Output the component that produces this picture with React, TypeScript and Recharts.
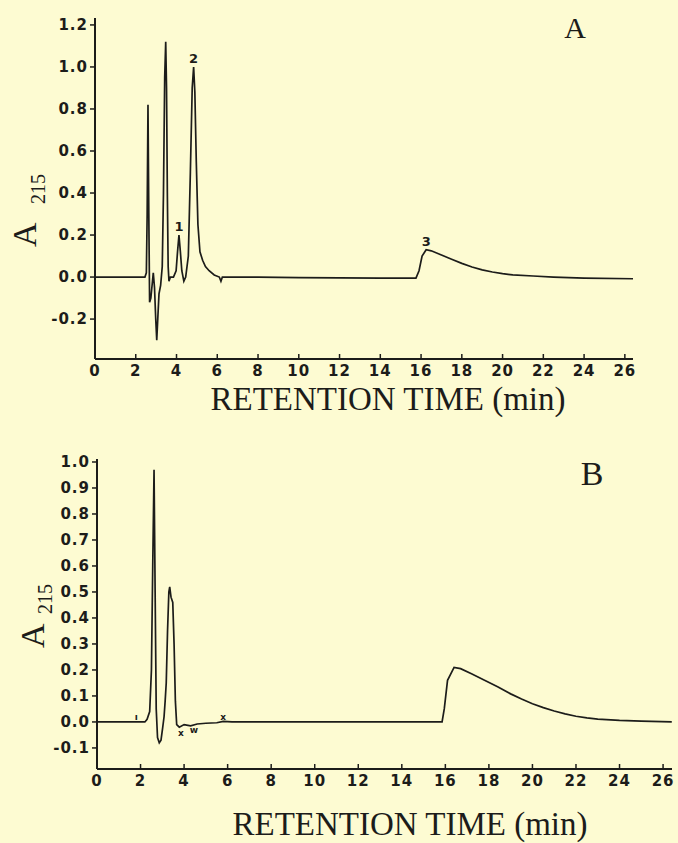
import { LineChart, Line, XAxis, YAxis, ReferenceDot } from "recharts";

// panel A chromatogram (time in min, absorbance at 215 nm)
const timeA = [
  0, 2.45, 2.52, 2.56, 2.6, 2.64, 2.68, 2.74, 2.8, 2.86, 2.92, 2.98, 3.03, 3.08, 3.14, 3.22,
  3.3, 3.36, 3.42, 3.47, 3.51, 3.55, 3.59, 3.63, 3.7, 3.85, 3.98, 4.05, 4.12, 4.19, 4.26,
  4.36, 4.45, 4.58, 4.68, 4.77, 4.84, 4.9, 4.97, 5.05, 5.15, 5.28, 5.42, 5.6, 5.85, 6.1,
  6.18, 6.25, 8, 10, 14, 15.75, 15.9, 16.05, 16.25, 16.5, 17, 17.5, 18, 18.5, 19, 19.5,
  20, 20.5, 21.5, 22.5, 24, 26.4,
];
const absA = [
  0, 0, 0.02, 0.3, 0.82, 0.3, -0.12, -0.1, -0.04, 0.02, -0.05, -0.2, -0.3, -0.2, -0.08, -0.04,
  0.05, 0.4, 0.95, 1.12, 0.9, 0.4, 0.05, -0.02, 0.0, 0.0, 0.03, 0.12, 0.2, 0.12, 0.03,
  -0.02, 0.0, 0.1, 0.5, 0.9, 1.0, 0.88, 0.55, 0.25, 0.12, 0.08, 0.05, 0.03, 0.01, 0.0,
  -0.02, 0.0, 0.0, -0.003, -0.005, -0.005, 0.03, 0.1, 0.13, 0.125, 0.105, 0.085, 0.065, 0.048, 0.034, 0.024,
  0.016, 0.01, 0.005, 0.0, -0.005, -0.008,
];

// panel B chromatogram
const timeB = [
  0, 2.2, 2.3, 2.42, 2.5, 2.56, 2.62, 2.67, 2.72, 2.78, 2.86, 2.94, 3.02, 3.08, 3.13, 3.18,
  3.24, 3.3, 3.34, 3.4, 3.48, 3.54, 3.6, 3.66, 3.78, 4.0, 4.3, 4.6, 5.0, 5.5, 5.8, 6.2,
  15.85, 15.95, 16.1, 16.4, 16.7, 17.2, 17.8, 18.4, 19.0, 19.5, 20.0, 20.5, 21.0, 21.5,
  22.0, 22.5, 23.0, 24.0, 25.0, 26.4,
];
const absB = [
  0, 0, 0.01, 0.04, 0.2, 0.6, 0.97, 0.5, 0.05, -0.06, -0.08, -0.07, -0.02, 0.02, 0.08, 0.15,
  0.35, 0.5, 0.52, 0.48, 0.46, 0.3, 0.08, -0.01, -0.02, -0.01, -0.015, -0.008, -0.005, -0.003, 0.002, 0.0,
  0.0, 0.05, 0.16, 0.21, 0.205, 0.185, 0.16, 0.135, 0.108, 0.088, 0.07, 0.055, 0.042, 0.031,
  0.022, 0.016, 0.011, 0.006, 0.003, 0.0,
];

const xTicks = [0, 2, 4, 6, 8, 10, 12, 14, 16, 18, 20, 22, 24, 26];
const yTicksA = [-0.2, 0, 0.2, 0.4, 0.6, 0.8, 1.0, 1.2];
const yTicksB = [-0.1, 0, 0.1, 0.2, 0.3, 0.4, 0.5, 0.6, 0.7, 0.8, 0.9, 1.0];

const peaksA = [
  { t: 4.12, v: 0.2, label: "1" },
  { t: 4.84, v: 1.0, label: "2" },
  { t: 16.25, v: 0.13, label: "3" },
];
// little pen marks on trace B
const marksB = [
  { t: 1.8, v: 0.0, label: "ı", pos: "top" },
  { t: 3.85, v: -0.02, label: "x", pos: "bottom" },
  { t: 4.45, v: -0.012, label: "w", pos: "bottom" },
  { t: 5.8, v: 0.0, label: "x", pos: "top" },
];

const rowsA = timeA.map((t, i) => ({ t, a: absA[i] }));
const rowsB = timeB.map((t, i) => ({ t, a: absB[i] }));

const BG = "#fdfbd2";
const INK = "#1c1c1a";
const tickStyle = { fontFamily: "DejaVu Sans", fontWeight: 900, fontSize: 15, letterSpacing: "1px" };
const serif = "Liberation Serif, Times New Roman, serif";

function XTick({ x, y, payload }: any) {
  return (
    <g>
      <line x1={x} y1={y} x2={x} y2={y - 5} stroke={INK} strokeWidth={1.5} />
      <text x={x} y={y + 17} textAnchor="middle" fill={INK} style={tickStyle}>{payload.value}</text>
    </g>
  );
}

function YTick({ x, y, payload }: any) {
  const v = Math.abs(payload.value) < 1e-9 ? 0 : payload.value;
  return (
    <text x={x} y={y + 5} textAnchor="end" fill={INK} style={tickStyle}>{v.toFixed(1)}</text>
  );
}

function Panel({ rows, yDomain, yTicks, height, top, marginTop, right, yWidth, xHeight,
  xMax, title, tag, ylab }: any) {
  return (
    <div style={{ position: "absolute", left: 0, top, width: 678, height }}>
      <LineChart width={678} height={height} data={rows}
        margin={{ top: marginTop, right, bottom: 0, left: 0 }}>
        <XAxis dataKey="t" type="number" domain={[0, xMax]} ticks={xTicks} allowDataOverflow
          height={xHeight} tickSize={0} tickMargin={0} tickLine={false} tick={<XTick />}
          axisLine={{ stroke: INK, strokeWidth: 2 }} />
        <YAxis type="number" domain={yDomain} ticks={yTicks} allowDataOverflow width={yWidth}
          tickSize={5} tickMargin={2} tickLine={{ stroke: INK, strokeWidth: 1.5 }} tick={<YTick />}
          axisLine={{ stroke: INK, strokeWidth: 2 }} />
        <Line type="linear" dataKey="a" stroke={INK} strokeWidth={1.7} dot={false}
          isAnimationActive={false} />
        {(tag.peaks || []).map((p: any, i: number) => (
          <ReferenceDot key={i} x={p.t} y={p.v} r={0} stroke="none" fill="none"
            label={{ value: p.label, position: p.pos || "top", offset: p.pos ? 2 : 4, fill: INK,
              fontFamily: "DejaVu Sans", fontWeight: 900, fontSize: p.pos ? 9 : 13 }} />
        ))}
        <text x={title.x} y={title.y} textAnchor="middle" fontFamily={serif} fontSize={33}
          fill={INK}>RETENTION TIME (min)</text>
        <text x={tag.x} y={tag.y} textAnchor="middle" fontFamily={serif} fontSize={tag.size}
          fill={INK}>{tag.text}</text>
        <text x={ylab.ax} y={ylab.ay} transform={`rotate(-90 ${ylab.ax} ${ylab.ay})`}
          fontFamily={serif} fontSize={34} fill={INK}>A</text>
        <text x={ylab.sx} y={ylab.sy} transform={`rotate(-90 ${ylab.sx} ${ylab.sy})`}
          fontFamily={serif} fontSize={20} fill={INK}>215</text>
      </LineChart>
    </div>
  );
}

export default function App() {
  return (
    <div style={{ position: "absolute", left: 0, top: 0, width: 678, height: 843, background: BG }}>
      <Panel rows={rowsA} yDomain={[-0.39, 1.233]} yTicks={yTicksA} height={420} top={0}
        marginTop={18} right={45} yWidth={95} xHeight={61} xMax={26.4}
        title={{ x: 388, y: 410 }}
        tag={{ x: 575, y: 38, size: 30, text: "A", peaks: peaksA }}
        ylab={{ ax: 36, ay: 247, sx: 45, sy: 204 }} />
      <Panel rows={rowsB} yDomain={[-0.181, 1.0115]} yTicks={yTicksB} height={423} top={420}
        marginTop={39} right={6} yWidth={97} xHeight={74} xMax={26.41}
        title={{ x: 410, y: 415 }}
        tag={{ x: 592, y: 65, size: 34, text: "B", peaks: marksB }}
        ylab={{ ax: 44, ay: 228, sx: 52, sy: 194 }} />
    </div>
  );
}
